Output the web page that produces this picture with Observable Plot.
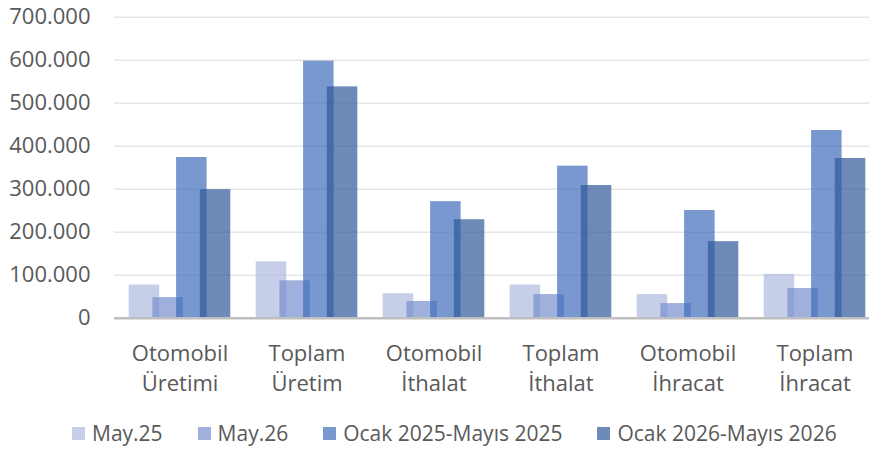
<!DOCTYPE html>
<html><head><meta charset="utf-8">
<script src="https://cdn.jsdelivr.net/npm/d3@7"></script>
<script src="https://cdn.jsdelivr.net/npm/@observablehq/plot@0.6"></script>
<style>
body{margin:0;background:#fff;font-family:"Open Sans",sans-serif;}
#chart{position:relative;width:869px;height:451px;overflow:hidden;background:#fff;}
#legend{position:absolute;left:72px;top:420px;height:26px;display:flex;align-items:center;font-size:21px;color:#595959;white-space:nowrap;}
.item{display:flex;align-items:center;margin-right:35px;}
.sw{width:13px;height:13px;margin-right:7px;}
</style></head><body><div id="chart"></div>
<script>
const categories = ["Otomobil\nÜretimi","Toplam\nÜretim","Otomobil\nİthalat","Toplam\nİthalat","Otomobil\nİhracat","Toplam\nİhracat"];
const series = ["May.25","May.26","Ocak 2025-Mayıs 2025","Ocak 2026-Mayıs 2026"];
const may25 = [77000,131000,57000,77000,55000,102000];
const may26 = [48000,87000,39000,55000,34000,69000];
const ocak2025 = [373700,597700,271000,353500,250500,436500];
const ocak2026 = [299000,538000,229000,308600,178000,371400];
const yTicks = [0,100000,200000,300000,400000,500000,600000,700000];
const colors = ["#afbade","#778ecd","#3e6cba","#30589a"];

const values = [may25, may26, ocak2025, ocak2026];
const tables = values.map((vals, i) => categories.map((c, j) => ({category: c, series: series[i], value: vals[j]})));
const fmt = d3.formatLocale({decimal: ",", thousands: ".", grouping: [3], currency: ["", ""]}).format(",d");

const W = 869, H = 408;
const bandW = 127.5, barW = 31, step = 23.7;
const inset = (bandW - barW) / 2;

const plot = Plot.plot({
  width: W, height: H,
  marginTop: 16.7, marginBottom: H - 317.7, marginLeft: 114, marginRight: 0,
  style: {fontFamily: "Open Sans", fontSize: "22px", color: "#595959", background: "#fff", overflow: "hidden"},
  x: {type: "band", domain: categories, range: [114, 114 + bandW * 6], padding: 0},
  y: {domain: [0, 700000]},
  marks: [
    Plot.ruleY(yTicks.filter(t => t > 0), {stroke: "#e6e6e6", strokeWidth: 1.4}),
    ...tables.map((t, i) => Plot.rectY(t, {
      x: "category", y: "value", fill: colors[i], fillOpacity: 0.7,
      insetLeft: inset, insetRight: inset, dx: (i - 1.5) * step
    })),
    Plot.ruleY([0], {stroke: "#bfbfbf", strokeWidth: 2.4}),
    Plot.axisY({ticks: yTicks, tickFormat: fmt, tickSize: 0, tickPadding: 24, label: null, fontSize: 22}),
    Plot.axisX({tickSize: 0, tickPadding: 22, label: null, fontSize: 22, lineHeight: 1.35})
  ]
});
const chart = document.getElementById("chart");
chart.appendChild(plot);

const legend = document.createElement("div");
legend.id = "legend";
series.forEach((s, i) => {
  const it = document.createElement("div");
  it.className = "item";
  const sw = document.createElement("div");
  sw.className = "sw";
  sw.style.background = colors[i];
  sw.style.opacity = 0.7;
  const tx = document.createElement("span");
  tx.textContent = s;
  it.appendChild(sw); it.appendChild(tx);
  legend.appendChild(it);
});
chart.appendChild(legend);
</script></body></html>
